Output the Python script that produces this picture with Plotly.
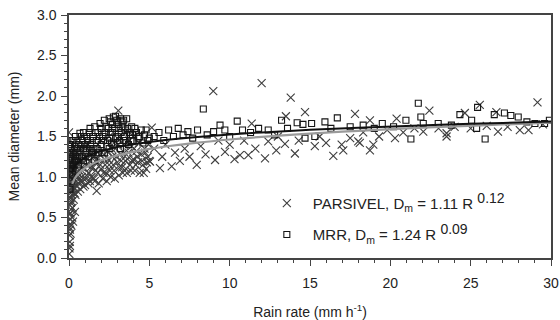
import plotly.graph_objects as go

# ---- PARSIVEL observations (rain rate mm/h, mean diameter mm) ----
pars_x = [0.02,0.03,0.05,0.04,0.06,0.08,0.05,0.10,0.12,0.07,0.15,0.10,0.18,0.20,0.12,0.25,0.15,0.30,0.22,0.08,
          0.35,0.18,0.28,0.10,0.40,0.20,0.05,0.30,0.15,0.03,0.04,0.06,0.37,0.25,
          0.45,0.50,0.55,0.60,0.70,0.75,0.80,0.90,0.95,1.00,1.05,1.10,1.20,1.25,1.30,1.40,1.45,1.50,1.60,1.72,
          1.70,1.80,1.90,2.00,2.10,2.20,2.30,2.40,2.50,2.60,2.70,2.80,2.90,3.00,3.07,3.10,3.20,3.30,3.40,3.50,
          3.60,3.70,3.80,3.90,4.00,4.10,4.20,4.30,4.40,4.50,4.60,4.70,4.80,4.90,5.00,0.00,2.50,1.20,3.50,
          0.10,0.15,0.20,0.12,0.22,0.30,0.35,0.28,0.40,0.45,0.50,0.55,0.60,0.65,0.70,0.80,0.85,0.90,1.00,1.10,
          1.15,1.30,1.35,1.50,1.55,1.65,1.75,1.85,1.95,2.05,2.15,2.25,2.35,2.45,2.55,2.65,2.75,2.85,2.95,3.05,
          3.15,3.25,3.35,3.45,3.55,3.65,3.75,3.85,3.95,4.05,4.15,4.25,4.35,4.55,4.65,4.75,4.85,4.95,0.05,0.08,
          0.02,0.10,0.05,0.25,0.35,0.50,0.70,1.00,2.00,3.00,4.00,1.80,2.80,
          5.04,5.15,5.30,5.66,5.80,6.00,6.39,6.60,6.90,7.20,7.50,7.95,8.20,8.50,8.98,9.09,9.30,9.71,10.0,10.3,10.64,10.9,
          11.16,11.37,11.6,11.99,12.2,12.4,12.9,13.0,13.44,13.5,13.8,14.06,14.3,14.69,15.3,15.6,16.0,16.45,16.97,17.07,
          17.5,17.8,18.0,18.1,18.31,18.73,18.73,18.94,19.3,19.8,20.29,20.39,20.8,21.5,22.05,22.43,23.0,23.5,23.5,24.0,
          24.64,25.0,25.57,26.0,26.6,26.7,27.3,28.06,28.6,29.16,29.5]
pars_y = [0.05,0.12,0.20,0.28,0.35,0.42,0.48,0.55,0.60,0.65,0.70,0.74,0.78,0.82,0.86,0.88,0.92,0.95,0.98,1.00,
          1.02,1.05,1.08,1.12,1.10,1.18,1.25,1.22,1.30,0.90,0.75,0.15,0.57,0.45,
          0.90,1.05,0.82,1.15,0.95,1.20,1.00,0.88,1.10,1.25,0.98,1.15,0.92,1.05,1.20,1.00,1.30,1.12,0.95,0.83,
          1.18,1.05,1.28,1.10,0.98,1.22,1.05,1.32,1.15,1.00,1.25,1.08,1.35,1.18,1.82,1.02,1.28,1.12,1.40,1.20,
          1.05,1.30,1.15,1.38,1.22,1.08,1.32,1.18,1.05,1.28,1.15,1.35,1.10,1.25,1.20,1.55,1.50,1.40,1.55,
          0.30,0.40,0.50,0.68,0.62,0.72,0.80,0.85,0.78,0.95,0.88,1.00,0.92,1.08,0.85,1.12,0.95,1.18,0.90,1.02,
          1.22,0.95,1.12,1.25,0.98,1.08,1.22,0.92,1.15,1.30,1.05,1.15,0.95,1.22,1.08,1.35,1.15,0.98,1.25,1.40,
          1.12,1.20,1.05,1.30,1.10,1.22,1.45,1.08,1.20,1.35,1.15,1.25,1.42,1.20,1.05,1.30,1.18,1.40,0.55,0.82,
          0.38,0.95,1.15,1.15,1.25,1.30,1.35,1.38,1.45,1.48,1.50,1.40,1.42,
          1.19,1.61,1.35,1.11,1.25,1.40,1.13,1.30,1.20,1.35,1.25,1.15,1.38,1.28,2.06,1.21,1.45,1.31,1.40,1.22,1.27,1.45,
          1.27,1.66,1.35,2.16,1.23,1.44,1.33,1.50,1.41,1.75,1.98,1.29,1.45,1.80,1.38,1.50,1.42,1.26,1.40,1.33,
          1.48,1.78,1.44,1.42,1.55,1.70,1.33,1.40,1.50,1.58,1.48,1.72,1.55,1.60,1.56,1.82,1.60,1.50,1.54,1.62,
          1.79,1.60,1.89,1.63,1.80,1.56,1.62,1.58,1.58,1.92,1.65]

# ---- MRR observations ----
mrr_x = [0.02,0.05,0.08,0.10,0.04,0.12,0.15,0.20,0.03,0.25,0.18,0.30,0.06,0.35,0.40,0.45,0.50,0.55,0.60,0.68,
         0.70,0.80,0.85,0.90,1.00,1.05,1.10,1.20,1.31,1.35,1.40,1.50,1.55,1.60,1.70,1.80,1.85,1.93,2.00,2.10,
         2.20,2.30,2.40,2.50,2.60,2.70,2.76,2.80,2.97,3.00,3.10,3.20,3.30,3.40,3.50,3.59,3.70,3.80,3.90,4.00,
         4.20,4.40,4.60,4.80,5.00,0.30,0.90,1.60,2.20,2.50,
         0.05,0.10,0.15,0.20,0.25,0.30,0.35,0.40,0.45,0.50,0.60,0.65,0.75,0.80,0.90,0.95,1.00,1.10,1.15,1.25,
         1.30,1.45,1.50,1.65,1.75,1.90,2.00,2.05,2.15,2.25,2.35,2.45,2.55,2.65,2.70,2.85,2.90,3.05,3.15,3.25,
         3.35,3.45,3.55,3.65,3.75,3.85,3.95,4.10,4.30,4.50,4.70,4.90,0.02,0.08,0.12,0.20,3.20,2.90,3.40,2.60,
         5.3,5.6,5.9,6.2,6.5,6.8,7.1,7.4,7.7,8.0,8.36,8.6,9.0,9.4,9.7,10.0,10.47,10.8,
         11.3,11.8,12.4,12.8,13.23,13.6,14.2,14.56,14.69,15.1,15.3,15.93,16.3,16.7,
         17.5,18.31,19.0,19.5,20.2,20.97,21.28,21.74,21.9,22.05,22.98,23.8,24.33,25.06,25.37,25.43,25.9,26.47,
         27.1,27.5,27.96,28.5,29.0,29.6,29.9]
mrr_y = [0.95,1.05,1.15,1.25,1.30,1.10,1.35,1.20,1.40,1.30,1.00,1.15,0.85,1.38,1.25,1.20,1.45,1.30,1.15,1.54,
         1.35,1.25,1.45,1.20,1.40,1.30,1.50,1.25,1.60,1.40,1.30,1.50,1.35,1.20,1.45,1.55,1.30,1.66,1.40,1.50,
         1.30,1.62,1.45,1.35,1.55,1.65,1.74,1.40,1.70,1.50,1.60,1.35,1.68,1.45,1.58,1.72,1.40,1.52,1.62,1.45,
         1.55,1.50,1.42,1.58,1.48,1.45,1.55,1.62,1.70,1.72,
         1.20,1.40,1.15,1.45,1.10,1.30,1.20,1.50,1.35,1.25,1.40,1.25,1.50,1.40,1.35,1.50,1.25,1.35,1.45,1.55,
         1.35,1.45,1.30,1.55,1.35,1.50,1.60,1.30,1.45,1.55,1.38,1.60,1.48,1.42,1.55,1.60,1.48,1.65,1.45,1.55,
         1.62,1.50,1.42,1.60,1.55,1.45,1.52,1.60,1.48,1.58,1.52,1.45,1.10,1.30,0.95,1.05,1.72,1.75,1.70,1.68,
         1.50,1.55,1.45,1.58,1.50,1.60,1.52,1.56,1.48,1.58,1.84,1.52,1.56,1.64,1.58,1.50,1.69,1.58,
         1.55,1.60,1.58,1.52,1.70,1.60,1.67,1.65,1.48,1.66,1.50,1.68,1.60,1.73,
         1.62,1.64,1.60,1.66,1.62,1.70,1.47,1.91,1.74,1.66,1.66,1.64,1.77,1.70,1.60,1.86,1.47,1.77,
         1.79,1.76,1.74,1.68,1.66,1.66,1.70]

# ---- Power-law fits given in the legend ----
pars_a, pars_b = 1.11, 0.12
mrr_a, mrr_b = 1.24, 0.09
fit_x = [0.2,0.3,0.4,0.5,0.7,1,1.5,2,3,4,5,6,8,10,12,15,18,21,24,27,30]

pars_fit = [pars_a * r ** pars_b for r in fit_x]
mrr_fit = [mrr_a * r ** mrr_b for r in fit_x]

sup_style = '<sup><span style="font-size:14px">{}</span></sup>'

fig = go.Figure()
fig.add_trace(go.Scatter(x=pars_x, y=pars_y, mode="markers", legendgroup="p",
                         name="PARSIVEL, D<sub>m</sub> = 1.11 R " + sup_style.format("0.12"),
                         marker=dict(symbol="x-thin-open", size=8, color="#3e3e3e",
                                     line=dict(width=1.1, color="#3e3e3e"))))
fig.add_trace(go.Scatter(x=mrr_x, y=mrr_y, mode="markers", legendgroup="m",
                         name="MRR, D<sub>m</sub> = 1.24 R " + sup_style.format("0.09"),
                         marker=dict(symbol="square-open", size=6, color="#151515",
                                     line=dict(width=1.1, color="#151515"))))
fig.add_trace(go.Scatter(x=fit_x, y=pars_fit, mode="lines", showlegend=False,
                         line=dict(color="#9a9a9a", width=2.2, shape="spline")))
fig.add_trace(go.Scatter(x=fit_x, y=mrr_fit, mode="lines", showlegend=False,
                         line=dict(color="#111111", width=2, shape="spline")))

font_family = "Liberation Sans, Arial, sans-serif"
fig.update_layout(
    width=560, height=320,
    margin=dict(l=69, r=9, t=15, b=62),
    paper_bgcolor="white", plot_bgcolor="white",
    font=dict(family=font_family, size=14, color="#222"),
    legend=dict(x=0.398, y=0.293, xanchor="left", yanchor="top",
                bgcolor="rgba(0,0,0,0)", font=dict(size=15, color="#222"),
                tracegroupgap=9, itemwidth=42, traceorder="grouped"),
    xaxis=dict(range=[0, 30], dtick=5, showgrid=False, zeroline=False, automargin=False,
               showline=True, linecolor="#444", linewidth=1.5, mirror=True,
               ticks="outside", ticklen=6, tickcolor="#444", tickwidth=1.2,
               tickfont=dict(size=14, color="#222"), ticklabelstandoff=5,
               minor=dict(dtick=1, ticks="outside", ticklen=3, tickcolor="#444"),
               title=dict(text="Rain rate (mm h<sup>-1</sup>)", font=dict(size=14), standoff=18)),
    yaxis=dict(range=[0, 3], dtick=0.5, tickformat=".1f", showgrid=False, zeroline=False, automargin=False,
               showline=True, linecolor="#444", linewidth=1.5, mirror=True,
               ticks="outside", ticklen=6, tickcolor="#444", tickwidth=1.2,
               tickfont=dict(size=14, color="#222"), ticklabelstandoff=2,
               minor=dict(dtick=0.1, ticks="outside", ticklen=3, tickcolor="#444"),
               title=dict(text="Mean diameter (mm)", font=dict(size=14), standoff=14)),
)

fig.write_html("out.html")
